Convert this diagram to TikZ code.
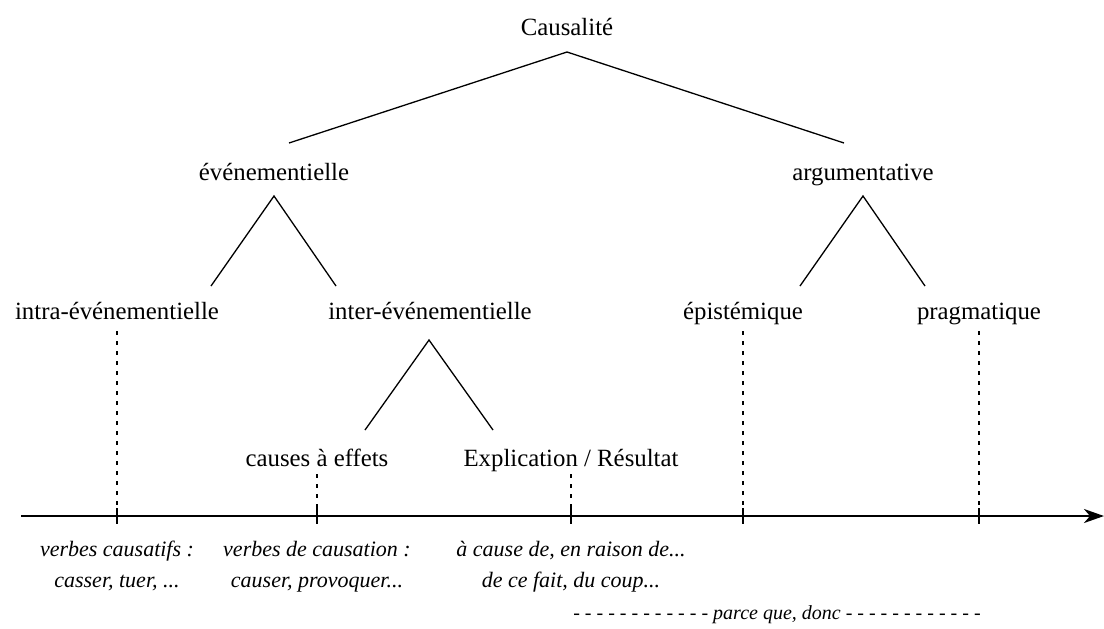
\documentclass[tikz,border=0pt]{standalone}
\usepackage{fontspec}
\setmainfont{LiberationSerif}[Extension=.ttf,UprightFont=*-Regular,ItalicFont=*-Italic,BoldFont=*-Bold,BoldItalicFont=*-BoldItalic]
\usetikzlibrary{arrows.meta}
\begin{document}
\begin{tikzpicture}[x=0.5pt,y=-0.5pt,
  lab/.style={anchor=base, inner sep=0pt, font=\rmfamily\fontsize{12.4}{15}\selectfont},
  ex/.style={anchor=base, inner sep=0pt, font=\rmfamily\fontsize{11}{13}\selectfont\itshape},
  branch/.style={line width=0.65pt},
  guide/.style={line width=0.6pt, dash pattern=on 2pt off 3pt},
  tickmark/.style={line width=0.75pt},
  axis/.style={line width=1.1pt, -{Stealth[length=10pt,width=7pt,inset=3pt]}}]
\useasboundingbox (0,0) rectangle (1104,628);
% labels
\node[lab] (caus) at (567,35) {Causalité};
\node[lab] (even) at (274,180) {événementielle};
\node[lab] (argu) at (863,180) {argumentative};
\node[lab] (intra) at (117,319) {intra-événementielle};
\node[lab] (inter) at (430,319) {inter-événementielle};
\node[lab] (epis) at (743,319) {épistémique};
\node[lab] (prag) at (979,319) {pragmatique};
\node[lab] (cae) at (317,466) {causes à effets};
\node[lab] (expl) at (571,466) {Explication / Résultat};
% tree coordinates
\coordinate (ca) at (567,52);
\coordinate (cl) at (289,143);
\coordinate (cr) at (844,143);
\coordinate (ea) at (274,196);
\coordinate (el) at (211,286);
\coordinate (er) at (336,286);
\coordinate (aa) at (863,196);
\coordinate (al) at (800,286);
\coordinate (ar) at (925,286);
\coordinate (ia) at (429,340);
\coordinate (il) at (365,430);
\coordinate (ir) at (493,430);
\draw[branch] (cl) -- (ca) -- (cr);
\draw[branch] (el) -- (ea) -- (er);
\draw[branch] (al) -- (aa) -- (ar);
\draw[branch] (il) -- (ia) -- (ir);
% axis
\coordinate (ax0) at (21,516);
\coordinate (ax1) at (1104,516);
\draw[axis] (ax0) -- (ax1);
\coordinate (t1) at (117,516);
\coordinate (t2) at (317,516);
\coordinate (t3) at (571,516);
\coordinate (t4) at (743,516);
\coordinate (t5) at (979,516);
\foreach \t in {t1,t2,t3,t4,t5}{
  \draw[tickmark] (\t) ++(0,-8) -- ++(0,16);
}
% guides
\coordinate (g1) at (117,331);
\coordinate (g2) at (317,474);
\coordinate (g3) at (571,474);
\coordinate (g4) at (743,331);
\coordinate (g5) at (979,331);
\draw[guide] (g1) -- ([yshift=4pt]t1);
\draw[guide] (g2) -- ([yshift=4pt]t2);
\draw[guide] (g3) -- ([yshift=4pt]t3);
\draw[guide] (g4) -- ([yshift=4pt]t4);
\draw[guide] (g5) -- ([yshift=4pt]t5);
% examples
\node[ex] (ex1a) at (117,556) {verbes causatifs :};
\node[ex] (ex1b) at (117,587) {casser, tuer, ...};
\node[ex] (ex2a) at (317,556) {verbes de causation :};
\node[ex] (ex2b) at (317,587) {causer, provoquer...};
\node[ex] (ex3a) at (571,556) {à cause de, en raison de...};
\node[ex] (ex3b) at (571,587) {de ce fait, du coup...};
\node[ex, font=\rmfamily\fontsize{10}{12}\selectfont\itshape] (ex4) at (777,619) {- - - - - - - - - - - - parce que, donc - - - - - - - - - - - -};
\end{tikzpicture}
\end{document}
